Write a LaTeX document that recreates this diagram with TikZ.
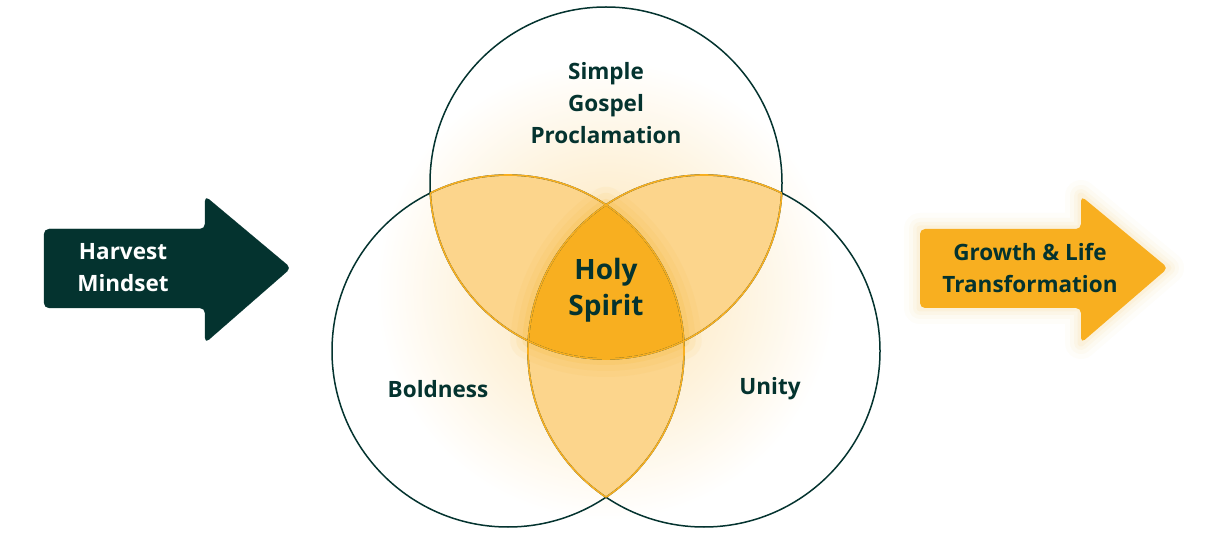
\documentclass[tikz,border=0pt]{standalone}
\usepackage{fontspec}
\setmainfont{Open Sans}
\definecolor{dk}{HTML}{04332F}
\definecolor{org}{HTML}{F8AF20}
\definecolor{lorg}{HTML}{FCD58C}
\tikzset{
  tri/.style={insert path={(606,204.8) arc[start angle=236.17,end angle=183.29,radius=176] arc[start angle=116.20,end angle=63.80,radius=176] arc[start angle=-3.29,end angle=-56.17,radius=176] -- cycle}},
  lbl/.style={text=dk,font=\bfseries\fontsize{22.5}{32}\selectfont,align=center},
  arrowtxt/.style={font=\bfseries\fontsize{22.5}{32}\selectfont,align=center}
}
\begin{document}
\begin{tikzpicture}[x=1pt,y=-1pt]
\useasboundingbox (0,0) rectangle (1212,534);
\fill[white] (0,0) rectangle (1212,534);
\coordinate (T) at (606,183);
\coordinate (L) at (508,351);
\coordinate (R) at (704,351);
% soft glow behind
\shade[inner color=org!35!white,outer color=white] (606,290) circle (230);
% pairwise lenses
\begin{scope}\clip (T) circle (176); \fill[lorg] (L) circle (176); \fill[lorg] (R) circle (176);\end{scope}
\begin{scope}\clip (L) circle (176); \fill[lorg] (R) circle (176);\end{scope}
% glow of centre
\draw[org,line width=36,opacity=0.06,line join=round,tri];
\draw[org,line width=24,opacity=0.08,line join=round,tri];
\draw[org,line width=12,opacity=0.12,line join=round,tri];
\fill[org,tri];
% outlines
\draw[dk,line width=1.5] (T) circle (176) (L) circle (176) (R) circle (176);
\begin{scope}\clip (L) circle (176) (R) circle (176); \draw[org,line width=1.6] (T) circle (176);\end{scope}
\begin{scope}\clip (T) circle (176) (R) circle (176); \draw[org,line width=1.6] (L) circle (176);\end{scope}
\begin{scope}\clip (T) circle (176) (L) circle (176); \draw[org,line width=1.6] (R) circle (176);\end{scope}
% labels
\node[lbl] (sgp) at (606,103) {Simple\\Gospel\\Proclamation};
\node[lbl] (bold) at (438,389) {Boldness};
\node[lbl] (unity) at (770,389) {Unity};
\node[text=dk,font=\bfseries\fontsize{28}{36}\selectfont,align=center] (hs) at (606,290) {Holy\\Spirit};
% left arrow
\draw[dk,fill=dk,line width=0.1,rounded corners=5] (44,229) -- (205,229) -- (205,196) -- (291,268) -- (205,343) -- (205,308) -- (44,308) -- cycle;
\node[arrowtxt,text=white] (hm) at (123,268) {Harvest\\Mindset};
% right arrow
\foreach \w/\o in {32/0.025,22/0.035,14/0.045,7/0.06}{
\draw[org,line width=\w,opacity=\o,line join=round] (920,229) -- (1081,229) -- (1081,196) -- (1168,268) -- (1081,343) -- (1081,308) -- (920,308) -- cycle;}
\fill[org,rounded corners=5] (920,229) -- (1081,229) -- (1081,196) -- (1168,268) -- (1081,343) -- (1081,308) -- (920,308) -- cycle;
\node[arrowtxt,text=dk] (glt) at (1030,268) {Growth \& Life\\Transformation};
\end{tikzpicture}
\end{document}
